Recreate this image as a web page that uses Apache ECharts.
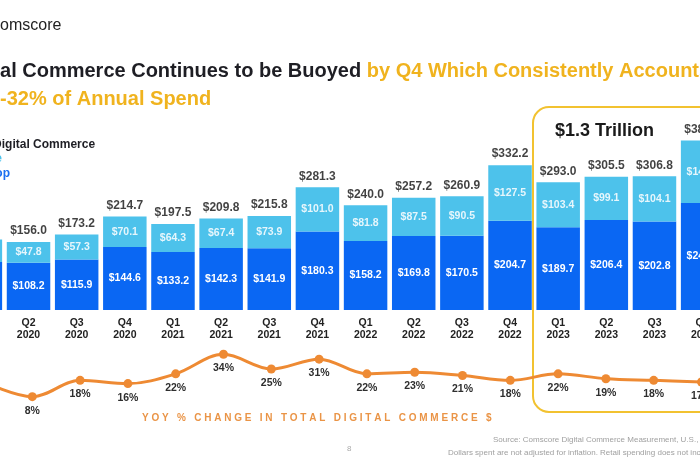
<!DOCTYPE html>
<html lang="en" style="height: 100%">
<head>
  <meta charset="utf-8">
</head>
<body style="height: 100%; margin: 0; background: #fff; overflow: hidden; position: relative">
  <!-- the slide is cropped on both sides, so the chart is wider than the window -->
  <div id="container" style="position: absolute; left: -50px; top: 0; width: 800px; height: 470px"></div>

<script type="text/javascript" src="https://cdn.jsdelivr.net/npm/echarts@6/dist/echarts.min.js"></script>

<script type="text/javascript">
var dom = document.getElementById('container');
var myChart = echarts.init(dom, null, { renderer: 'canvas' });

// quarters (first and last are cut by the slide crop)
var quarters = ['Q1\n2020', 'Q2\n2020', 'Q3\n2020', 'Q4\n2020',
  'Q1\n2021', 'Q2\n2021', 'Q3\n2021', 'Q4\n2021',
  'Q1\n2022', 'Q2\n2022', 'Q3\n2022', 'Q4\n2022',
  'Q1\n2023', 'Q2\n2023', 'Q3\n2023', 'Q4\n2023'];

// $ billions
var desktop = [110.0, 108.2, 115.9, 144.6, 133.2, 142.3, 141.9, 180.3,
  158.2, 169.8, 170.5, 204.7, 189.7, 206.4, 202.8, 245.5];
var mobile = [51.5, 47.8, 57.3, 70.1, 64.3, 67.4, 73.9, 101.0,
  81.8, 87.5, 90.5, 127.5, 103.4, 99.1, 104.1, 143.2];
var totals = [161.5, 156.0, 173.2, 214.7, 197.5, 209.8, 215.8, 281.3,
  240.0, 257.2, 260.9, 332.2, 293.0, 305.5, 306.8, 388.7];

// YoY % change in total digital commerce
var yoy = [17, 8, 18, 16, 22, 34, 25, 31, 22, 23, 21, 18, 22, 19, 18, 17];

var OX = 50; // container is shifted 50px left of the window
var FONT = 'Liberation Sans, Arial, sans-serif';
var DARK = '#0a67f3';
var LIGHT = '#4dc2eb';
var ORANGE = '#ee8a33';

function money(p) {
  return '$' + Number(p.value).toFixed(1);
}

var yoyTitle = 'YOY % CHANGE IN TOTAL DIGITAL COMMERCE $'.split('').join(' ');

var option = {
  backgroundColor: '#fff',
  animation: false,
  textStyle: { fontFamily: FONT },
  grid: [
    { left: OX - 43.7, top: 135.6, width: 770.4, height: 174.4 },
    { left: OX - 39.4, top: 344.5, width: 764.8, height: 65.2 }
  ],
  xAxis: [
    {
      type: 'category',
      data: quarters,
      gridIndex: 0,
      axisLine: { show: false },
      axisTick: { show: false },
      axisLabel: {
        interval: 0,
        margin: 7,
        color: '#222',
        fontWeight: 'bold',
        fontSize: 10.5,
        lineHeight: 12,
        fontFamily: FONT
      }
    },
    {
      type: 'category',
      data: quarters,
      gridIndex: 1,
      show: false
    }
  ],
  yAxis: [
    { type: 'value', gridIndex: 0, min: 0, max: 400, show: false },
    { type: 'value', gridIndex: 1, min: 0, max: 40, show: false }
  ],
  graphic: [
    {
      type: 'text', x: OX - 8, y: 26,
      style: { text: 'comscore', font: '16px ' + FONT, fill: '#222', verticalAlign: 'middle' }
    },
    {
      type: 'text', x: OX - 44.4, y: 71.6,
      style: {
        text: '{a|Digital Commerce Continues to be Buoyed }{b|by Q4 Which Consistently Accounts for}',
        verticalAlign: 'middle',
        rich: {
          a: { fontSize: 20, fontWeight: 'bold', fontFamily: FONT, fill: '#1e1e24' },
          b: { fontSize: 20, fontWeight: 'bold', fontFamily: FONT, fill: '#f0b31e' }
        }
      }
    },
    {
      type: 'text', x: OX - 22.2, y: 99.5,
      style: { text: '30-32% of Annual Spend', font: 'bold 20px ' + FONT, fill: '#f0b31e', verticalAlign: 'middle' }
    },
    {
      type: 'text', x: OX - 38, y: 145,
      style: { text: 'Total Digital Commerce', font: 'bold 12px ' + FONT, fill: '#1e1e24', verticalAlign: 'middle' }
    },
    {
      type: 'text', x: OX + 2, y: 159,
      style: { text: 'Mobile', font: 'bold 12px ' + FONT, fill: LIGHT, align: 'right', verticalAlign: 'middle' }
    },
    {
      type: 'text', x: OX + 10, y: 174,
      style: { text: 'Desktop', font: 'bold 12px ' + FONT, fill: '#1a6ff0', align: 'right', verticalAlign: 'middle' }
    },
    {
      type: 'rect', z: -1,
      shape: { x: OX + 533, y: 107, width: 230, height: 305, r: 16 },
      style: { fill: 'none', stroke: '#f2c230', lineWidth: 2 }
    },
    {
      type: 'text', x: OX + 555, y: 131,
      style: { text: '$1.3 Trillion', font: 'bold 18px ' + FONT, fill: '#1a1a1a', verticalAlign: 'middle' }
    },
    {
      type: 'text', x: OX + 142, y: 418,
      style: { text: yoyTitle, font: 'bold 10px ' + FONT, fill: '#ea9446', verticalAlign: 'middle' }
    },
    {
      type: 'text', x: OX + 347, y: 449,
      style: { text: '8', font: '8px ' + FONT, fill: '#aaa', verticalAlign: 'middle' }
    },
    {
      type: 'text', x: OX + 493, y: 440,
      style: { text: 'Source: Comscore Digital Commerce Measurement, U.S., 2020-2023', font: '8px ' + FONT, fill: '#a0a0a0', verticalAlign: 'middle' }
    },
    {
      type: 'text', x: OX + 448, y: 452.5,
      style: { text: 'Dollars spent are not adjusted for inflation. Retail spending does not include travel.', font: '8px ' + FONT, fill: '#a0a0a0', verticalAlign: 'middle' }
    }
  ],
  series: [
    {
      name: 'Desktop',
      type: 'bar',
      stack: 'total',
      xAxisIndex: 0,
      yAxisIndex: 0,
      barWidth: 43.5,
      itemStyle: { color: DARK },
      label: {
        show: true,
        position: 'inside',
        formatter: money,
        color: '#fff',
        fontWeight: 'bold',
        fontSize: 10.5,
        fontFamily: FONT
      },
      data: desktop
    },
    {
      name: 'Mobile',
      type: 'bar',
      stack: 'total',
      xAxisIndex: 0,
      yAxisIndex: 0,
      barWidth: 43.5,
      itemStyle: { color: LIGHT },
      label: {
        show: true,
        position: 'inside',
        formatter: money,
        color: '#e6f6fc',
        fontWeight: 'bold',
        fontSize: 10.5,
        fontFamily: FONT
      },
      data: mobile
    },
    {
      name: 'Total',
      type: 'scatter',
      xAxisIndex: 0,
      yAxisIndex: 0,
      symbolSize: 0,
      label: {
        show: true,
        position: 'top',
        distance: 5,
        formatter: money,
        color: '#111',
        fontWeight: 'bold',
        fontSize: 12,
        fontFamily: FONT
      },
      data: totals
    },
    {
      name: 'YoY',
      type: 'line',
      xAxisIndex: 1,
      yAxisIndex: 1,
      smooth: 0.35,
      symbol: 'circle',
      symbolSize: 9,
      lineStyle: { color: ORANGE, width: 3 },
      itemStyle: { color: ORANGE },
      label: {
        show: true,
        position: 'bottom',
        distance: 4,
        formatter: '{c}%',
        color: '#2e2e2e',
        fontWeight: 'bold',
        fontSize: 10.5,
        fontFamily: FONT
      },
      data: yoy
    }
  ]
};

myChart.setOption(option);
window.addEventListener('resize', myChart.resize);
</script>
</body>
</html>
